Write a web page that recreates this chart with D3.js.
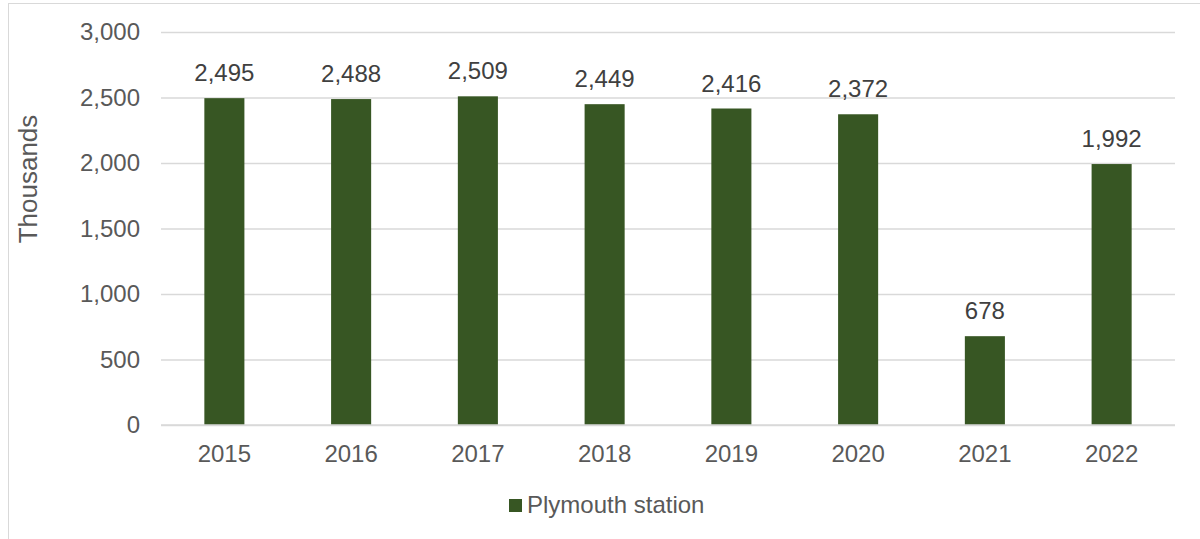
<!DOCTYPE html>
<html>
<head>
<meta charset="utf-8">
<script src="https://cdn.jsdelivr.net/npm/d3@7"></script>
<style>
  body { margin: 0; background: #fff; }
  text { font-family: "Liberation Sans", Arial, sans-serif; }
</style>
</head>
<body>
<div id="chart"></div>
<script>
// Set size constants
var totWidth = 1200,
    totHeight = 539;
var margins = {top: 32, right: 25, bottom: 114, left: 161};
var width = totWidth - margins.left - margins.right,
    height = totHeight - margins.top - margins.bottom;

// Data
var years = ["2015", "2016", "2017", "2018", "2019", "2020", "2021", "2022"];
var passengers = [2495, 2488, 2509, 2449, 2416, 2372, 678, 1992];
var yTicks = [0, 500, 1000, 1500, 2000, 2500, 3000];
var seriesName = "Plymouth station";

var barColor = "#375623";

var svg = d3.select("#chart")
  .append("svg")
    .attr("width", totWidth)
    .attr("height", totHeight);

// chart border (left + top visible)
svg.append("rect")
  .attr("x", 8.5)
  .attr("y", 3.5)
  .attr("width", totWidth)
  .attr("height", totHeight)
  .attr("fill", "none")
  .attr("stroke", "#d9d9d9")
  .attr("stroke-width", 1);

var g = svg.append("g")
  .attr("transform", "translate(" + margins.left + "," + margins.top + ")");

var x = d3.scaleBand()
  .domain(years)
  .range([0, width])
  .paddingInner(0.684)
  .paddingOuter(0.342);

var y = d3.scaleLinear()
  .domain([0, 3000])
  .range([height, 0]);

// gridlines
g.append("g")
  .call(d3.axisLeft(y)
    .tickValues(yTicks)
    .tickSize(-width)
    .tickFormat(""))
  .call(function(s) { s.select(".domain").remove(); })
  .selectAll(".tick line")
    .attr("stroke", "#d9d9d9")
    .attr("stroke-width", 1.3);

// y tick labels
g.selectAll(".ylab")
  .data(yTicks)
  .enter()
  .append("text")
    .attr("x", -21)
    .attr("y", function(d) { return y(d); })
    .attr("dy", "0.35em")
    .attr("text-anchor", "end")
    .attr("font-size", "24px")
    .attr("fill", "#595959")
    .text(function(d) { return d3.format(",")(d); });

// bars
g.selectAll(".bar")
  .data(passengers)
  .enter()
  .append("rect")
    .attr("class", "bar")
    .attr("x", function(d, i) { return x(years[i]); })
    .attr("y", function(d) { return y(d); })
    .attr("width", x.bandwidth())
    .attr("height", function(d) { return height - y(d); })
    .attr("fill", barColor);

// baseline
g.append("line")
  .attr("x1", 0)
  .attr("x2", width)
  .attr("y1", y(0))
  .attr("y2", y(0))
  .attr("stroke", "#d9d9d9")
  .attr("stroke-width", 1.5);

// data labels
g.selectAll(".dlab")
  .data(passengers)
  .enter()
  .append("text")
    .attr("x", function(d, i) { return x(years[i]) + x.bandwidth() / 2; })
    .attr("y", function(d) { return y(d) - 17; })
    .attr("text-anchor", "middle")
    .attr("font-size", "24px")
    .attr("fill", "#404040")
    .text(function(d) { return d3.format(",")(d); });

// x tick labels
g.selectAll(".xlab")
  .data(years)
  .enter()
  .append("text")
    .attr("x", function(d) { return x(d) + x.bandwidth() / 2; })
    .attr("y", height + 37)
    .attr("text-anchor", "middle")
    .attr("font-size", "24px")
    .attr("fill", "#595959")
    .text(function(d) { return d; });

// y axis title
svg.append("text")
  .attr("transform", "translate(37,179) rotate(-90)")
  .attr("text-anchor", "middle")
  .attr("font-size", "26px")
  .attr("fill", "#595959")
  .text("Thousands");

// legend
var legend = svg.append("g")
  .attr("transform", "translate(509,499)");
legend.append("rect")
  .attr("width", 13)
  .attr("height", 13)
  .attr("fill", barColor);
legend.append("text")
  .attr("x", 18)
  .attr("y", 14)
  .attr("font-size", "24px")
  .attr("fill", "#595959")
  .text(seriesName);
</script>
</body>
</html>
